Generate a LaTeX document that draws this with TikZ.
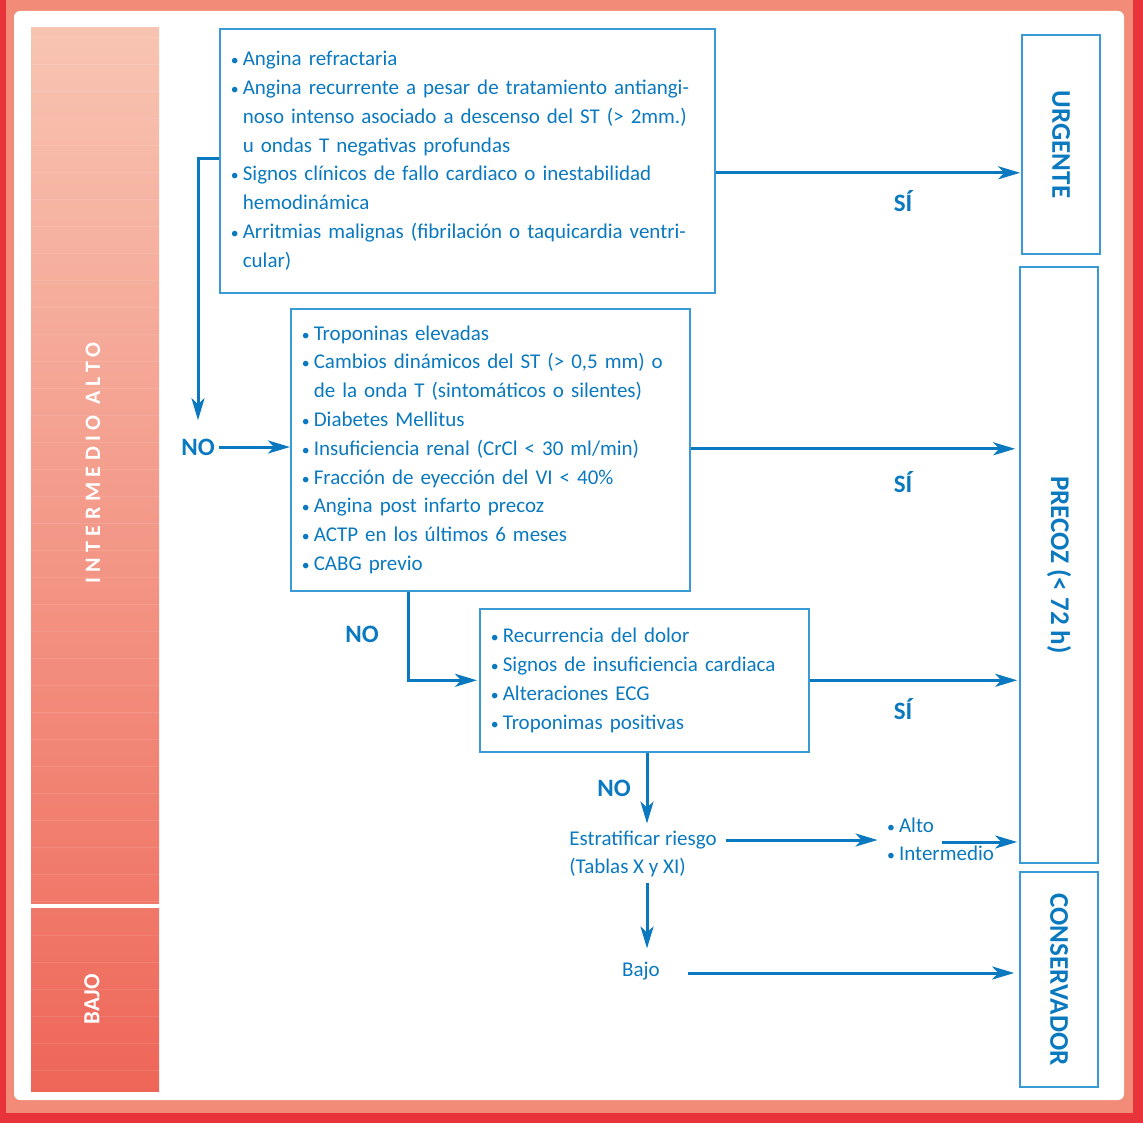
\documentclass[tikz,border=0pt]{standalone}
\usepackage{fontspec}
\setmainfont{Carlito}
\usepackage{xcolor}
\usepackage{tikz}
\usetikzlibrary{arrows.meta}
\usetikzlibrary{calc}
\usetikzlibrary{positioning}

\definecolor{azul}{RGB}{10,121,192}
\definecolor{azulclaro}{RGB}{58,154,214}
\definecolor{rojo}{RGB}{232,51,59}
\definecolor{salmon}{RGB}{242,139,120}
\definecolor{bandaalta}{RGB}{248,196,178}
\definecolor{bandamedia}{RGB}{240,120,105}
\definecolor{bandabaja}{RGB}{238,102,88}
\newcommand{\bul}{\makebox[13pt][l]{\hspace{1pt}\scalebox{.75}{\textbullet}}}
\newcommand{\ind}{\hspace*{13pt}}

\begin{document}
\begin{tikzpicture}[x=1pt,y=-1pt,>={Stealth[length=22pt,width=13pt,inset=6pt]},line width=3pt]
						\tikzstyle{caja}=[draw=azulclaro, line width=1.6pt, text=azul, align=left, inner xsep=10pt, inner ysep=0pt, font=\fontsize{21}{28.8}\selectfont]
						\tikzstyle{destino}=[draw=azulclaro, line width=1.6pt, text=azul, rotate=-90, minimum height=78pt, inner sep=0pt, font=\bfseries\fontsize{27}{27}\selectfont]
						\tikzstyle{banda}=[text=white, rotate=90, font=\bfseries\fontsize{22}{22}\selectfont]
						\tikzstyle{etiq}=[text=azul, inner sep=3pt, font=\bfseries\fontsize{25}{25}\selectfont]
						\tikzstyle{texto}=[text=azul, inner sep=2pt, font=\fontsize{21}{28}\selectfont]
						\tikzstyle{flecha}=[->, draw=azul, line width=3pt]
						% marco
						\useasboundingbox (0,0) rectangle (1143,1123);
						\fill[rojo] (0,0) rectangle (1143,1123);
						\fill[salmon] (6,0) rectangle (1133,1113);
						\fill[white, rounded corners=6pt] (14,11) rectangle (1124,1100);
						% bandas de riesgo
						\shade[top color=bandaalta, bottom color=bandamedia] (31,28) rectangle (159,903);
						\shade[top color=bandamedia, bottom color=bandabaja] (31,908) rectangle (159,1091);
						\foreach \y in {37,64,91,118,145,172,199,226,253,280,307,334,361,388,415,442,469,496,523,550,577,604,631,658,685,712,739,766,793,820,847,874,901}
							\draw[white, opacity=.1, line width=.8pt] (31,\y) -- (159,\y);
						\foreach \y in {935,962,989,1016,1043,1070}
							\draw[white, opacity=.1, line width=.8pt] (31,\y) -- (159,\y);
						\node[banda] 		(inter) at (93,463)		{\addfontfeature{LetterSpace=25}INTERMEDIO ALTO};
						\node[banda, font=\bfseries\fontsize{23}{23}\selectfont] (bajoband) at (92,999)	{BAJO};

						% cajas
						\node[caja, text width=475pt, minimum height=264pt, anchor=north west] (riesgo) at (219,28) {%
							\bul Angina refractaria\\
							\bul Angina recurrente a pesar de tratamiento antiangi-\\
							\ind noso intenso asociado a descenso del ST (> 2mm.)\\
							\ind u ondas T negativas profundas\\
							\bul Signos clínicos de fallo cardiaco o inestabilidad\\
							\ind hemodinámica\\
							\bul Arritmias malignas (fibrilación o taquicardia ventri-\\
							\ind cular)};
						\node[caja, text width=379pt, minimum height=282pt, anchor=north west] (sint) at (290,308) {%
							\bul Troponinas elevadas\\
							\bul Cambios dinámicos del ST (> 0,5 mm) o\\
							\ind de la onda T (sintomáticos o silentes)\\
							\bul Diabetes Mellitus\\
							\bul Insuficiencia renal (CrCl < 30 ml/min)\\
							\bul Fracción de eyección del VI < 40\%\\
							\bul Angina post infarto precoz\\
							\bul ACTP en los últimos 6 meses\\
							\bul CABG previo};
						\node[caja, text width=309pt, minimum height=143pt, anchor=north west] (cambios) at (479,608) {%
							\bul Recurrencia del dolor\\
							\bul Signos de insuficiencia cardiaca\\
							\bul Alteraciones ECG\\
							\bul Troponimas positivas};

						% destinos
						\node[destino, minimum width=219pt] 	(urg) at (1061,144.5) 	{URGENTE};
						\node[destino, minimum width=596pt] 	(prec) at (1059,565) 	{PRECOZ (< 72 h)};
						\node[destino, minimum width=215pt] 	(cons) at (1059,979.5) 	{CONSERVADOR};

						% textos sueltos
						\node[etiq] 	(no1) at (198,447) 	{NO};
						\node[etiq] 	(no2) at (362,634) 	{NO};
						\node[etiq] 	(no3) at (614,788) 	{NO};
						\node[etiq] 	(si1) at (903,201) 	{SÍ};
						\node[etiq] 	(si2) at (903,482) 	{SÍ};
						\node[etiq] 	(si3) at (903,709) 	{SÍ};
						\node[texto, align=left] 	(estr) at (643,854) 	{Estratificar riesgo\\(Tablas X y XI)};
						\node[texto, align=left] 	(niveles) at (940,839) 	{\bul Alto\\\bul Intermedio};
						\node[texto] 	(bajo) at (641,971) 	{Bajo};

						% conectores
						\coordinate (s1) at ($(riesgo.east)+(0,12)$);
						\coordinate (f1) at ($(riesgo.west)+(0,-2)$);
						\coordinate (s2) at ($(sint.east)+(0,-1)$);
						\coordinate (b2) at ($(sint.south west)+(118,0)$);
						\coordinate (b3) at ($(cambios.south west)+(168,0)$);
						\coordinate (s4) at ($(estr.east)+(6,-14)$);
						\coordinate (s5) at ($(niveles.center)+(2,3)$);
						\coordinate (s6) at ($(bajo.east)+(25,2)$);
						\draw[flecha, shorten >=1pt] (s1) -- (s1 -| urg.south);
						\draw[flecha, shorten >=14pt] (f1) -- (f1 -| no1) -- (no1.north);
						\draw[flecha] (no1.east) -- (no1.east -| sint.west);
						\draw[flecha, shorten >=4pt] (s2) -- (s2 -| prec.south);
						\draw[flecha, shorten >=2pt] (b2) |- (cambios.west);
						\draw[flecha, shorten >=2pt] (cambios.east) -- (cambios.east -| prec.south);
						\draw[flecha, shorten >=4pt] (b3) -- (b3 |- estr.north);
						\draw[flecha, shorten >=5pt] (s4) -- (s4 -| niveles.west);
						\draw[flecha, shorten >=2pt] (s5) -- (s5 -| prec.south);
						\draw[flecha, shorten <=3pt, shorten >=10pt] (b3 |- estr.south) -- (b3 |- bajo.north);
						\draw[flecha, shorten >=5pt] (s6) -- (s6 -| cons.south);
\end{tikzpicture}
\end{document}
